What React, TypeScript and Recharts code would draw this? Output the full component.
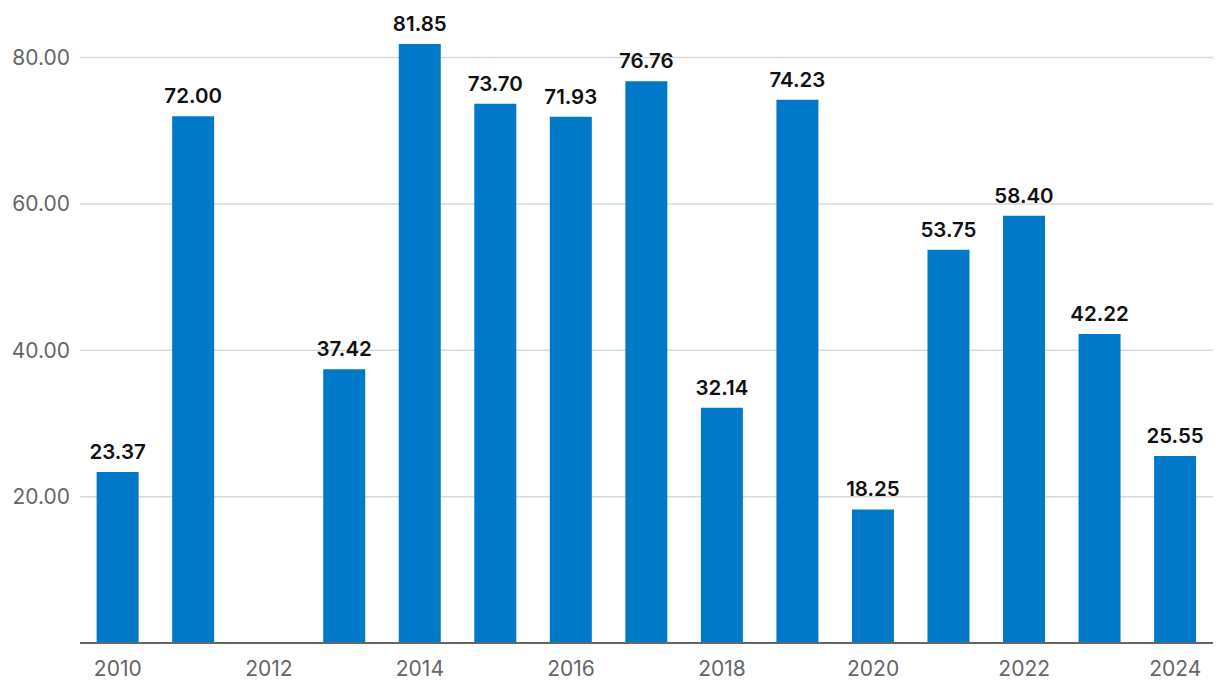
import React from 'react';
import { BarChart, Bar, XAxis, YAxis, CartesianGrid, LabelList } from 'recharts';

const years = ['2010','2011','2012','2013','2014','2015','2016','2017','2018','2019','2020','2021','2022','2023','2024'];
const values: (number | null)[] = [23.37, 72.0, null, 37.42, 81.85, 73.7, 71.93, 76.76, 32.14, 74.23, 18.25, 53.75, 58.4, 42.22, 25.55];
const yTicks = [20, 40, 60, 80];

const data = years.map((y, i) => ({ year: y, value: values[i] }));

const font = 'Inter, "DejaVu Sans", sans-serif';

export default function App() {
  return (
    <div style={{ position: 'absolute', left: 0, top: 0, background: '#fff' }}>
      <BarChart
        width={1220}
        height={696}
        data={data}
        margin={{ top: 21, right: 7, bottom: 0, left: 0 }}
        barCategoryGap="22%"
      >
        <CartesianGrid vertical={false} syncWithTicks stroke="#d9d9d9" strokeWidth={1.5} />
        <XAxis
          dataKey="year"
          interval={1}
          height={53}
          tickLine={false}
          tickSize={0}
          tickMargin={18}
          axisLine={{ stroke: '#666', strokeWidth: 2 }}
          tick={{ fill: '#666', fontSize: 21, fontFamily: font }}
        />
        <YAxis
          width={80}
          domain={[0, 85]}
          ticks={yTicks}
          axisLine={false}
          tickLine={false}
          tickSize={0}
          tickMargin={10}
          tickFormatter={(v: number) => v.toFixed(2)}
          tick={{ fill: '#666', fontSize: 21, fontFamily: font }}
        />
        <Bar dataKey="value" fill="#0079C8" isAnimationActive={false}>
          <LabelList
            dataKey="value"
            position="top"
            offset={13}
            formatter={(v: any) => (v == null ? '' : Number(v).toFixed(2))}
            style={{ fill: '#111', fontSize: 20.5, fontWeight: 600, fontFamily: font }}
          />
        </Bar>
      </BarChart>
    </div>
  );
}
